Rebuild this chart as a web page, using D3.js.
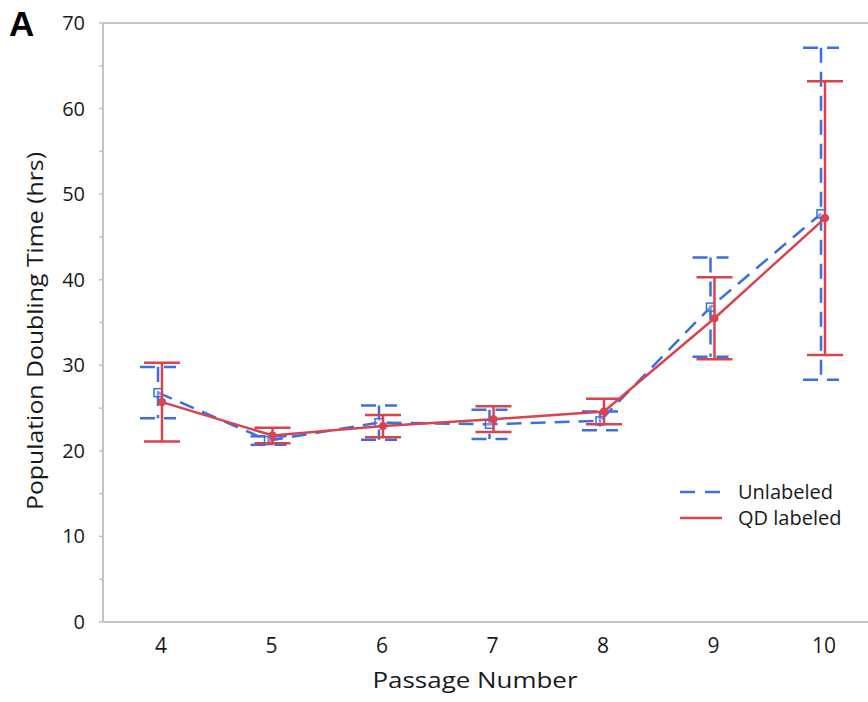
<!DOCTYPE html>
<html><head><meta charset="utf-8">
<script src="https://cdn.jsdelivr.net/npm/d3@7"></script>
<style>body{margin:0;background:#fff}svg{display:block}text{font-family:"Open Sans",sans-serif;fill:#1a1a1a}</style>
</head><body>
<svg id="c" width="868" height="702"></svg>
<script>
const passages = [4, 5, 6, 7, 8, 9, 10];
const unlabeledMean = [26.8, 21.2, 23.3, 23.1, 23.5, 36.8, 47.7];
const unlabeledErr  = [3.0, 0.5, 2.0, 1.7, 1.1, 5.8, 19.4];
const qdMean = [25.7, 21.8, 22.9, 23.7, 24.6, 35.5, 47.2];
const qdErr  = [4.6, 0.9, 1.3, 1.5, 1.5, 4.8, 16.0];
const yTicks = [0, 10, 20, 30, 40, 50, 60, 70];
const yMinor = [5, 15, 25, 35, 45, 55, 65];
const seriesNames = ["Unlabeled", "QD labeled"];

const svg = d3.select("#c");
const blue = "#3d6fe0", red = "#d8434f", grey = "#c3c3c3";
const x = d3.scaleLinear().domain([4, 10]).range([162, 825]);
const y = d3.scaleLinear().domain([0, 70]).range([622, 23]);
const L = 103, R = 868;

// frame
svg.append("line").attr("x1", L).attr("x2", R).attr("y1", y(70)).attr("y2", y(70)).attr("stroke", grey).attr("stroke-width", 2);
svg.append("line").attr("x1", L).attr("x2", R).attr("y1", y(0)).attr("y2", y(0)).attr("stroke", grey).attr("stroke-width", 2);
svg.append("line").attr("x1", L).attr("x2", L).attr("y1", y(70)).attr("y2", y(0)).attr("stroke", grey).attr("stroke-width", 2);
// ticks
[...yTicks, ...yMinor].forEach(v => {
  svg.append("line").attr("x1", L - 4).attr("x2", L).attr("y1", y(v)).attr("y2", y(v)).attr("stroke", grey).attr("stroke-width", 1.5);
});
yTicks.forEach(v => {
  svg.append("text").attr("x", 85).attr("y", y(v)).attr("dy", "0.35em").attr("text-anchor", "end")
    .attr("font-size", 20).text(v);
});
passages.forEach(p => {
  svg.append("text").attr("x", x(p) - 1).attr("y", 646).attr("dy", "0.35em").attr("text-anchor", "middle")
    .attr("font-size", 21).text(p);
});
svg.append("text").attr("x", 475).attr("y", 688).attr("text-anchor", "middle")
  .attr("font-size", 22).attr("textLength", 205).attr("lengthAdjust", "spacingAndGlyphs").text("Passage Number");
svg.append("text").attr("transform", `translate(35,331) rotate(-90)`).attr("dy", "0.35em").attr("text-anchor", "middle")
  .attr("font-size", 22).attr("textLength", 358).attr("lengthAdjust", "spacingAndGlyphs").text("Population Doubling Time (hrs)");
svg.append("text").attr("x", 9).attr("y", 36).attr("font-size", 35).attr("font-weight", "bold")
  .style("font-family", "Liberation Sans, Arial, sans-serif").style("fill", "#000").text("A");

function series(means, errs, color, dx, dash, marker) {
  const g = svg.append("g");
  const data = passages.map((p, i) => ({p, m: means[i], e: errs[i]}));
  const cap = 18;
  data.forEach(d => {
    const cx = x(d.p) + dx;
    g.append("line").attr("x1", cx).attr("x2", cx).attr("y1", y(d.m + d.e)).attr("y2", y(d.m - d.e))
      .attr("stroke", color).attr("stroke-width", 2.5).attr("stroke-dasharray", dash);
    [d.m + d.e, d.m - d.e].forEach(v => {
      g.append("line").attr("x1", cx - cap).attr("x2", cx + cap).attr("y1", y(v)).attr("y2", y(v))
        .attr("stroke", color).attr("stroke-width", 2.5).attr("stroke-dasharray", dash);
    });
  });
  g.append("path").datum(data)
    .attr("d", d3.line().x(d => x(d.p) + dx).y(d => y(d.m)))
    .attr("fill", "none").attr("stroke", color).attr("stroke-width", 2.5).attr("stroke-dasharray", dash);
  data.forEach(d => {
    const cx = x(d.p) + dx;
    if (marker === "square") {
      g.append("rect").attr("x", cx - 4).attr("y", y(d.m) - 4).attr("width", 8).attr("height", 8)
        .attr("fill", "#fff").attr("fill-opacity", 0.3).attr("stroke", color).attr("stroke-width", 1.5);
    } else {
      g.append("circle").attr("cx", cx).attr("cy", y(d.m)).attr("r", 4).attr("fill", color);
    }
  });
}
series(unlabeledMean, unlabeledErr, blue, -4, "15,9", "square");
series(qdMean, qdErr, red, 0, null, "circle");

// legend
const lg = svg.append("g");
[[blue, "15,10"], [red, null]].forEach((s, i) => {
  const yy = 492 + i * 26;
  lg.append("line").attr("x1", 680).attr("x2", 722).attr("y1", yy).attr("y2", yy)
    .attr("stroke", s[0]).attr("stroke-width", 2.5).attr("stroke-dasharray", s[1]);
  lg.append("text").attr("x", 738).attr("y", yy).attr("dy", "0.35em").attr("font-size", 20).text(seriesNames[i]);
});
</script>
</body></html>
